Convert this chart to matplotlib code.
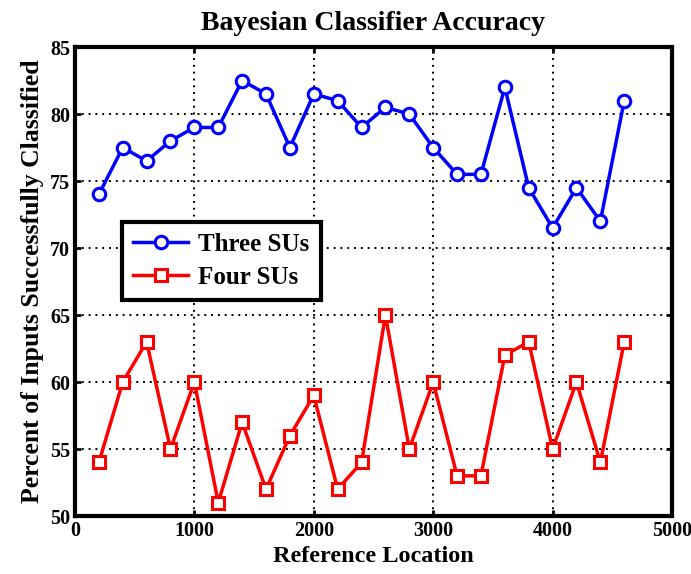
import matplotlib.pyplot as plt

x = [200, 400, 600, 800, 1000, 1200, 1400, 1600, 1800, 2000, 2200, 2400,
     2600, 2800, 3000, 3200, 3400, 3600, 3800, 4000, 4200, 4400, 4600]
three_sus = [74, 77.5, 76.5, 78, 79, 79, 82.5, 81.5, 77.5, 81.5, 81, 79,
             80.5, 80, 77.5, 75.5, 75.5, 82, 74.5, 71.5, 74.5, 72, 81]
four_sus = [54, 60, 63, 55, 60, 51, 57, 52, 56, 59, 52, 54,
            65, 55, 60, 53, 53, 62, 63, 55, 60, 54, 63]

plt.rcParams['font.family'] = ['Liberation Serif', 'DejaVu Serif']
plt.rcParams['font.weight'] = 'bold'

fig = plt.figure(figsize=(6.91, 5.74), dpi=100)
ax = fig.add_axes([0.1085, 0.101, 0.864, 0.817])

ax.plot(x, three_sus, color='blue', lw=2.5, marker='o', ms=9, mfc='white',
        mec='blue', mew=2.2, label='Three SUs')
ax.plot(x, four_sus, color='red', lw=2.5, marker='s', ms=8, mfc='white',
        mec='red', mew=2.2, label='Four SUs')

ax.set_xlim(0, 5000)
ax.set_ylim(50, 85)
ax.set_xticks(range(0, 5001, 1000))
ax.set_yticks(range(50, 86, 5))
ax.grid(True, color='black', linestyle=(0, (1, 2.5)), linewidth=1.4)
ax.tick_params(labelsize=14.5, width=2, length=4, direction='in', top=True, right=True)
for s in ax.spines.values():
    s.set_linewidth(3)

ax.set_title('Bayesian Classifier Accuracy', fontsize=20, fontweight='bold', pad=12)
ax.set_xlabel('Reference Location', fontsize=17.5, fontweight='bold', labelpad=4)
ax.set_ylabel('Percent of Inputs Successfully Classified', fontsize=18.5,
              fontweight='bold', labelpad=4)

leg = ax.legend(loc='upper left', bbox_to_anchor=(0.079, 0.627), fontsize=18,
                fancybox=False, edgecolor='black', framealpha=1,
                handlelength=2.2, handletextpad=0.4, borderpad=0.45,
                labelspacing=0.4, borderaxespad=0)
leg.get_frame().set_linewidth(3)

fig.savefig('out.png', dpi=100)
